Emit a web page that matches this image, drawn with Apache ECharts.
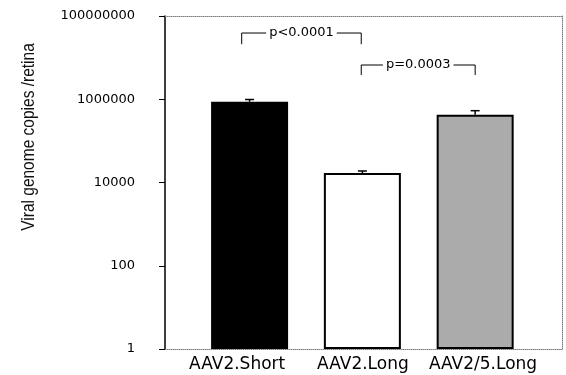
<!DOCTYPE html>
<html>
<head>
<meta charset="utf-8">
<script src="https://cdn.jsdelivr.net/npm/echarts@6/dist/echarts.min.js"></script>
<style>html,body{margin:0;padding:0;background:#fff}#c{width:566px;height:375px}</style>
</head>
<body>
<div id="c"></div>
<script>
const categories = ['AAV2.Short', 'AAV2.Long', 'AAV2/5.Long'];
const means = [873000, 16900, 425000];
const errTops = [986000, 18900, 531000];
const barColors = ['#000000', '#ffffff', '#ababab'];
const yTicks = [1, 100, 10000, 1000000, 100000000];
const yAxisTitle = 'Viral genome copies /retina';
// brackets: [leftCategoryPos, rightCategoryPos, lineValue, tickEndValue]
const bracketStart = [-0.07, 0.99];
const bracketEnd = [0.99, 2.0];
const bracketLine = [3.9e7, 6.65e6];
const bracketTickEnd = [2.1e7, 3.83e6];
const pLabels = ['p<0.0001', 'p=0.0003'];
// category label positions (as printed, slightly off the bar centres)
const categoryLabelPos = [-0.11, 1.005, 2.07];

const chart = echarts.init(document.getElementById('c'), null, {renderer: 'canvas'});
const frameLine = {show: true, onZero: false, lineStyle: {color: '#808080', type: 'dotted', width: 1}};

const option = {
  animation: false,
  backgroundColor: '#fff',
  grid: {left: 165, right: 4, top: 16, bottom: 26, containLabel: false},
  xAxis: [{
    type: 'value', min: -0.75, max: 2.77, position: 'bottom',
    splitLine: {show: false}, axisTick: {show: false},
    axisLine: frameLine,
    axisLabel: {
      customValues: categoryLabelPos,
      formatter: v => categories[Math.abs(Math.round(v))],
      fontFamily: 'DejaVu Sans', fontSize: 17, color: '#000', margin: 7
    }
  }, {
    type: 'value', min: -0.75, max: 2.77, position: 'top',
    splitLine: {show: false}, axisTick: {show: false}, axisLabel: {show: false},
    axisLine: frameLine
  }],
  yAxis: [{
    type: 'log', logBase: 100, min: yTicks[0], max: yTicks[yTicks.length - 1],
    position: 'left',
    splitLine: {show: false},
    axisLine: {show: true, onZero: false, lineStyle: {color: '#000', width: 1.5}},
    axisTick: {show: true, inside: false, length: 6, lineStyle: {color: '#000', width: 1}},
    axisLabel: {
      formatter: v => String(Math.round(v)),
      fontFamily: 'DejaVu Sans', fontSize: 13, color: '#000', margin: 30
    }
  }, {
    type: 'log', logBase: 100, min: yTicks[0], max: yTicks[yTicks.length - 1],
    position: 'right',
    splitLine: {show: false}, axisTick: {show: false}, axisLabel: {show: false},
    axisLine: frameLine
  }],
  graphic: [{
    type: 'text', x: 29, y: 137, rotation: Math.PI / 2, scaleY: 1.15,
    style: {
      text: yAxisTitle, fontFamily: 'Liberation Sans', fontSize: 15.5, fill: '#111',
      align: 'center', verticalAlign: 'middle', textAlign: 'center', textVerticalAlign: 'middle'
    }
  }],
  series: [{
    type: 'bar', xAxisIndex: 0, yAxisIndex: 0, barWidth: 77,
    data: means.map((v, i) => ({
      value: [i, v],
      itemStyle: {color: barColors[i], borderColor: '#000', borderWidth: i === 0 ? 0 : 2}
    }))
  }, {
    type: 'custom', xAxisIndex: 0, yAxisIndex: 0,
    data: means.map((v, i) => [i, v, errTops[i]]),
    renderItem: (params, api) => {
      const base = api.coord([api.value(0), api.value(1)]);
      const top = api.coord([api.value(0), api.value(2)]);
      const stroke = {stroke: '#000', lineWidth: 1.5};
      return {type: 'group', children: [
        {type: 'line', shape: {x1: base[0], y1: base[1], x2: top[0], y2: top[1]}, style: stroke},
        {type: 'line', shape: {x1: top[0] - 4.5, y1: top[1], x2: top[0] + 4.5, y2: top[1]}, style: stroke}
      ]};
    }
  }, {
    type: 'custom', xAxisIndex: 0, yAxisIndex: 0,
    data: pLabels.map((t, i) => [bracketStart[i], bracketEnd[i], bracketLine[i], bracketTickEnd[i], i]),
    renderItem: (params, api) => {
      const a = api.coord([api.value(0), api.value(2)]);
      const b = api.coord([api.value(1), api.value(2)]);
      const a2 = api.coord([api.value(0), api.value(3)]);
      const b2 = api.coord([api.value(1), api.value(3)]);
      const idx = api.value(4);
      return {type: 'group', children: [
        {type: 'polyline', shape: {points: [[a2[0], a2[1]], [a[0], a[1]], [b[0], b[1]], [b2[0], b2[1]]]},
         style: {stroke: '#000', lineWidth: 1, fill: null}},
        {type: 'text', x: (a[0] + b[0]) / 2, y: a[1],
         style: {text: pLabels[idx], fontFamily: 'DejaVu Sans', fontSize: 13, fill: '#000',
                 align: 'center', verticalAlign: 'middle', backgroundColor: '#fff', padding: [0, 3]}}
      ]};
    }
  }]
};
chart.setOption(option);
</script>
</body>
</html>
